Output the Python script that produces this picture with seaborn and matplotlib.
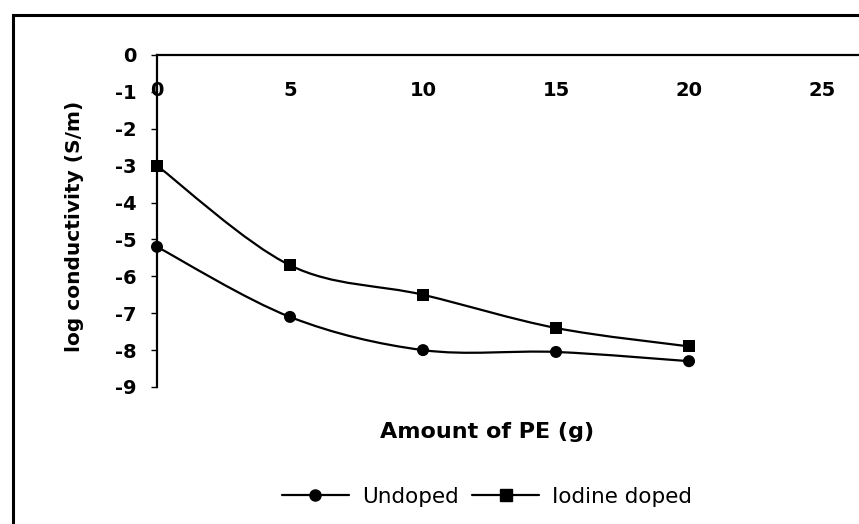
import numpy as np
import pandas as pd
import matplotlib
matplotlib.use("Agg")
import matplotlib.pyplot as plt
from matplotlib.path import Path
from matplotlib.patches import PathPatch, Rectangle
from matplotlib.lines import Line2D
import seaborn as sns

# Conductivity data
pe_amount = [0, 5, 10, 15, 20]
undoped = [-5.2, -7.1, -8.0, -8.05, -8.3]
iodine_doped = [-3.0, -5.7, -6.5, -7.4, -7.9]
series_names = ["Undoped", "Iodine doped"]
x_ticks = [0, 5, 10, 15, 20, 25]
y_ticks = [0, -1, -2, -3, -4, -5, -6, -7, -8, -9]

df = pd.DataFrame({
    "pe": pe_amount * 2,
    "logc": undoped + iodine_doped,
    "series": [series_names[0]] * len(pe_amount) + [series_names[1]] * len(pe_amount),
})

sns.set_theme(style="white")
plt.rcParams["font.family"] = ["DejaVu Sans"]
plt.rcParams["text.color"] = "black"

W, H = 859, 524
fig = plt.figure(figsize=(W / 100, H / 100), dpi=100)

# outer chart frame
fig.patches.append(Rectangle((13 / W, -0.05), 1.2, 1 - 15 / H + 0.05,
                             transform=fig.transFigure, fill=False,
                             edgecolor="black", linewidth=2.2, zorder=0))

ax = fig.add_axes([157 / W, 1 - 387 / H, 1 - 157 / W, (387 - 55) / H])
ax.set_facecolor("none")


def smooth_path(xs, ys):
    """Cubic Bezier through the points (Catmull-Rom style smoothing)."""
    pts = np.column_stack([xs, ys]).astype(float)
    n = len(pts)
    verts = [pts[0]]
    codes = [Path.MOVETO]
    for i in range(n - 1):
        p0 = pts[max(i - 1, 0)]
        p1 = pts[i]
        p2 = pts[i + 1]
        p3 = pts[min(i + 2, n - 1)]
        c1 = p1 + (p2 - p0) / 6.0
        c2 = p2 - (p3 - p1) / 6.0
        verts += [c1, c2, p2]
        codes += [Path.CURVE4] * 3
    return Path(verts, codes)


for vals in (undoped, iodine_doped):
    ax.add_patch(PathPatch(smooth_path(pe_amount, vals), fill=False,
                           edgecolor="black", linewidth=1.6, zorder=2))

sns.scatterplot(data=df, x="pe", y="logc", style="series",
                markers={series_names[0]: "o", series_names[1]: "s"},
                color="black", s=75, edgecolor="black", linewidth=0,
                legend=False, ax=ax, zorder=3, clip_on=False)

ax.set_xlim(0, (W - 157) / 26.6)
ax.set_ylim(-9, 0)
ax.set_xticks(x_ticks)
ax.set_yticks(y_ticks)
ax.set_xticklabels([str(v) for v in x_ticks])
ax.set_yticklabels([str(v) for v in y_ticks])
ax.set_xlabel("")
ax.set_ylabel("")

# x axis sits at log conductivity = 0, labels hang below it
ax.spines["bottom"].set_position(("data", 0))
ax.spines["top"].set_visible(False)
ax.spines["right"].set_visible(False)
for sp in ("bottom", "left"):
    ax.spines[sp].set_color("black")
    ax.spines[sp].set_linewidth(1.6)
ax.tick_params(axis="x", bottom=True, length=0, pad=19, labelsize=14,
               labelcolor="black")
ax.tick_params(axis="y", left=True, length=4, width=1, color="black",
               direction="out", pad=11, labelsize=14, labelcolor="black")
for lbl in ax.get_xticklabels() + ax.get_yticklabels():
    lbl.set_fontweight("bold")

fig.text(75 / W, 1 - 226 / H, "log conductivity (S/m)", rotation=90,
         ha="center", va="center", fontsize=14.5, fontweight="bold",
         color="black")
fig.text(487 / W, 1 - 432 / H, "Amount of PE (g)", ha="center", va="center",
         fontsize=16, fontweight="bold", color="black")

handles = [Line2D([], [], color="black", linewidth=1.6, marker=m, markersize=8)
           for m in ("o", "s")]
fig.legend(handles, series_names, loc="center", bbox_to_anchor=(487 / W, 1 - 497 / H),
           ncol=2, frameon=False, fontsize=15.5, handlelength=3.1,
           columnspacing=0.65, handletextpad=0.6, labelcolor="black")

fig.savefig("out.png", dpi=100)
